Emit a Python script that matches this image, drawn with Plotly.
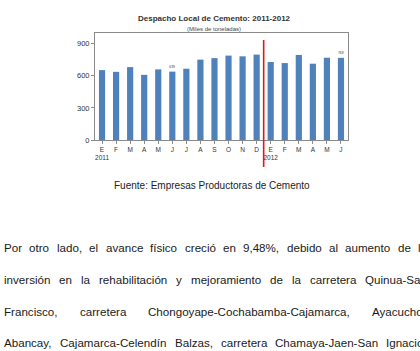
import plotly.graph_objects as go

# ---- data ----
months = ["E", "F", "M", "A", "M", "J", "J", "A", "S", "O", "N", "D",
          "E", "F", "M", "A", "M", "J"]
years = ["2011", "", "", "", "", "", "", "", "", "", "", "",
         "2012", "", "", "", "", ""]
despacho = [653, 637, 681, 609, 660, 639, 666, 751, 765, 789, 782, 798,
            729, 719, 795, 713, 769, 768]
labelled = {5: "639", 17: "768"}
y_ticks = [0, 300, 600, 900]

title = "Despacho Local de Cemento: 2011-2012"
subtitle = "(Miles de toneladas)"
caption = "Fuente: Empresas Productoras de Cemento"

paragraph_lines = [
    "Por otro lado, el avance físico creció en 9,48%, debido al aumento de la",
    "inversión en la rehabilitación y mejoramiento de la carretera Quinua-San",
    "Francisco, carretera Chongoyape-Cochabamba-Cajamarca, Ayacucho-",
    "Abancay, Cajamarca-Celendín Balzas, carretera Chamaya-Jaen-San Ignacio,",
]
line_y = [247, 279, 311, 342]

# ---- geometry (pixels) ----
W, H = 420, 351
L, R, T, B = 95, 348, 33, 140
pw, ph = R - L, B - T

def px(x):
    return (x - L) / pw

def py(y):
    return (B - y) / ph

# Helvetica/Arial advance widths (em) for justified text layout
_w = {c: 0.556 for c in "abdeghnopqu0123456789óí"}
_w.update({"c": .5, "s": .5, "v": .5, "y": .5, "z": .5, "k": .5, "x": .5,
           "i": .222, "l": .222, "j": .222, "í": .278, "t": .278, "f": .278, "r": .333,
           "m": .833, "w": .722, ",": .278, ".": .278, ":": .278, "-": .333, "%": .889,
           "A": .667, "B": .667, "C": .722, "F": .611, "I": .278, "J": .5, "P": .667,
           "Q": .778, "S": .667, "E": .667})

def text_w(s, fs):
    return sum(_w.get(ch, 0.556) for ch in s) * fs

PFS = 11.6
X0, XR = 2, 425

fig = go.Figure()
fig.add_trace(go.Bar(
    x=list(range(len(months))), y=despacho,
    marker=dict(color="#4f81bd", line=dict(width=0)),
    text=[labelled.get(i, "") for i in range(len(months))],
    textposition="outside",
    textfont=dict(size=6, color="#444", family="Arial"),
    cliponaxis=False,
    hoverinfo="skip",
    width=0.44,
))

annotations = [
    dict(text=f"<b>{title}</b>", x=px(214), y=py(18), xref="paper", yref="paper",
         showarrow=False, xanchor="center", yanchor="middle",
         font=dict(family="Liberation Sans, Arial", size=8, color="#333")),
    dict(text=subtitle, x=px(214), y=py(29), xref="paper", yref="paper",
         showarrow=False, xanchor="center", yanchor="middle",
         font=dict(family="Liberation Sans, Arial", size=6, color="#444")),
    dict(text=caption, x=px(212), y=py(185), xref="paper", yref="paper",
         showarrow=False, xanchor="center", yanchor="middle",
         font=dict(family="Liberation Sans, Arial", size=10, color="#222")),
]
for line, ypix in zip(paragraph_lines, line_y):
    words = line.split(" ")
    widths = [text_w(w, PFS) for w in words]
    gap = (XR - X0 - sum(widths)) / (len(words) - 1)
    xcur = X0
    for w, wd in zip(words, widths):
        annotations.append(dict(
            text=w, x=px(xcur), y=py(ypix), xref="paper", yref="paper",
            showarrow=False, xanchor="left", yanchor="middle",
            font=dict(family="Liberation Sans, Arial", size=PFS, color="#1a1a1a"),
        ))
        xcur += wd + gap

xs = list(range(len(months)))
ticktext = [m if not yr else f"{m}<br>{yr}" for m, yr in zip(months, years)]

fig.update_layout(
    width=W, height=H,
    margin=dict(l=L, r=W - R, t=T, b=H - B, pad=0),
    paper_bgcolor="white", plot_bgcolor="white",
    showlegend=False,
    annotations=annotations,
    shapes=[dict(type="line", xref="x", yref="paper", x0=11.5, x1=11.5,
                 y0=py(40), y1=py(167), line=dict(color="#e0161b", width=1.6))],
    xaxis=dict(
        range=[-0.5, len(months) - 0.5], tickmode="array", tickvals=xs, ticktext=ticktext,
        tickfont=dict(family="Liberation Sans, Arial", size=6.5, color="#333"),
        showline=True, linecolor="#8a8a8a", linewidth=1, mirror=True,
        ticks="outside", tickson="boundaries", ticklen=3, tickcolor="#8a8a8a",
        showgrid=False, zeroline=False,
    ),
    yaxis=dict(
        range=[0, 1000], tickvals=y_ticks,
        tickfont=dict(family="Liberation Sans, Arial", size=7.5, color="#333"),
        showline=True, linecolor="#8a8a8a", linewidth=1, mirror=True,
        ticks="outside", ticklen=3, tickcolor="#8a8a8a",
        showgrid=False, zeroline=False,
    ),
)

fig.write_html("out.html")
